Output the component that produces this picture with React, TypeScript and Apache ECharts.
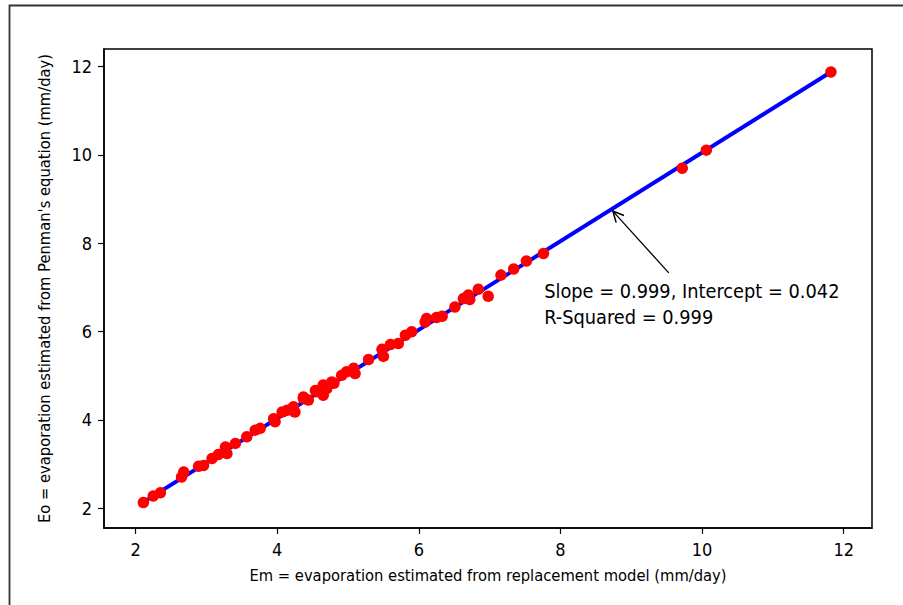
import React, { useEffect, useRef } from "react";
import * as echarts from "echarts";

// Scatter data: Em (x) vs Eo (y)
const emX = [2.11, 2.25, 2.35, 2.65, 2.68, 2.89, 2.96, 3.08, 3.17, 3.27, 3.29, 3.41, 3.57, 3.69, 3.76, 3.95, 3.97, 4.07, 4.14, 4.23, 4.25, 4.37, 4.37, 4.44, 4.54, 4.56, 4.65, 4.65, 4.70, 4.77, 4.80, 4.91, 4.98, 5.08, 5.10, 5.29, 5.48, 5.50, 5.60, 5.71, 5.81, 5.90, 6.09, 6.11, 6.25, 6.33, 6.51, 6.63, 6.70, 6.72, 6.84, 6.98, 7.16, 7.34, 7.52, 7.76, 9.72, 10.06, 11.82];
const eoY = [2.13, 2.28, 2.35, 2.71, 2.82, 2.95, 2.97, 3.13, 3.22, 3.39, 3.24, 3.47, 3.62, 3.77, 3.81, 4.03, 3.96, 4.18, 4.22, 4.30, 4.18, 4.49, 4.52, 4.45, 4.67, 4.64, 4.79, 4.56, 4.71, 4.86, 4.83, 5.01, 5.09, 5.17, 5.05, 5.37, 5.60, 5.44, 5.71, 5.73, 5.92, 6.00, 6.22, 6.30, 6.32, 6.35, 6.56, 6.75, 6.83, 6.73, 6.96, 6.80, 7.28, 7.42, 7.60, 7.77, 9.70, 10.11, 11.88];

// Fitted line end points
const fitX = [2.11, 11.82];
const fitY = [2.14, 11.88];

const xTicks = [2, 4, 6, 8, 10, 12];
const yTicks = [2, 4, 6, 8, 10, 12];
const axisMin = 1.554;
const axisMax = 12.4;

const xName = "Em = evaporation estimated from replacement model (mm/day)";
const yName = "Eo = evaporation estimated from Penman's equation (mm/day)";
const annLines = ["Slope = 0.999, Intercept = 0.042", "R-Squared = 0.999"];
const arrowTip = [8.74, 8.73];
const arrowTail = [9.53, 7.33];
const annPos = [
  [7.77, 6.91],
  [7.77, 6.31],
];

const FONT = "'DejaVu Sans Condensed', 'DejaVu Sans', sans-serif";

export default function App() {
  const ref = useRef<HTMLDivElement>(null);

  useEffect(() => {
    document.body.style.margin = "0";
    if (!ref.current) return;
    const chart = echarts.init(ref.current, null, { renderer: "svg" });
    const axisCommon = {
      type: "value",
      min: axisMin,
      max: axisMax,
      nameLocation: "middle",
      nameTextStyle: { fontFamily: FONT, fontSize: 16.4, color: "#000" },
      axisLine: { show: true, lineStyle: { color: "#000", width: 1.5 } },
      axisTick: { show: true, inside: false, length: 6, lineStyle: { color: "#000", width: 1.2 } },
      splitLine: { show: false },
    };
    chart.setOption({
      animation: false,
      backgroundColor: "#fff",
      grid: {
        left: 104,
        top: 49,
        right: 31,
        bottom: 77,
        show: true,
        borderColor: "#000",
        borderWidth: 1.5,
      },
      xAxis: {
        ...axisCommon,
        name: xName,
        nameGap: 39,
        axisTick: { ...axisCommon.axisTick, customValues: xTicks },
        axisLabel: { customValues: xTicks, margin: 12, fontFamily: FONT, fontSize: 18, color: "#000" },
      },
      yAxis: {
        ...axisCommon,
        name: yName,
        nameGap: 52,
        axisTick: { ...axisCommon.axisTick, customValues: yTicks },
        axisLabel: { customValues: yTicks, margin: 12, fontFamily: FONT, fontSize: 18, color: "#000" },
      },
      series: [
        {
          type: "line",
          data: fitX.map((x, i) => [x, fitY[i]]),
          symbol: "none",
          lineStyle: { color: "#0000ff", width: 4 },
          z: 2,
        },
        {
          type: "scatter",
          data: emX.map((x, i) => [x, eoY[i]]),
          symbolSize: 11.5,
          itemStyle: { color: "#ff0000", opacity: 1 },
          z: 3,
        },
      ],
    });

    const tip = chart.convertToPixel({ gridIndex: 0 }, arrowTip) as number[];
    const tail = chart.convertToPixel({ gridIndex: 0 }, arrowTail) as number[];
    const dx = tail[0] - tip[0];
    const dy = tail[1] - tip[1];
    const len = Math.sqrt(dx * dx + dy * dy);
    const ux = dx / len;
    const uy = dy / len;
    const headLen = 12;
    const ang = (26 * Math.PI) / 180;
    const rot = (a: number) => [
      tip[0] + headLen * (ux * Math.cos(a) - uy * Math.sin(a)),
      tip[1] + headLen * (ux * Math.sin(a) + uy * Math.cos(a)),
    ];
    const h1 = rot(ang);
    const h2 = rot(-ang);
    const textEls = annLines.map((t, i) => {
      const p = chart.convertToPixel({ gridIndex: 0 }, annPos[i]) as number[];
      return {
        type: "text",
        x: p[0],
        y: p[1],
        style: {
          text: t,
          fontFamily: FONT,
          fontSize: 19.8,
          fill: "#000",
          align: "left",
          verticalAlign: "middle",
        },
        z: 10,
      };
    });
    chart.setOption({
      graphic: [
        {
          type: "rect",
          shape: { x: 9.5, y: 5.5, width: 1000, height: 1000 },
          style: { fill: "none", stroke: "#333", lineWidth: 1.8 },
          silent: true,
        },
        {
          type: "line",
          shape: { x1: tail[0], y1: tail[1], x2: tip[0], y2: tip[1] },
          style: { stroke: "#000", lineWidth: 1.3 },
          z: 10,
        },
        {
          type: "polyline",
          shape: { points: [h1, tip, h2] },
          style: { stroke: "#000", lineWidth: 1.5, fill: "none" },
          z: 10,
        },
        ...textEls,
      ],
    });

    return () => chart.dispose();
  }, []);

  return <div ref={ref} style={{ width: 903, height: 605 }} />;
}
